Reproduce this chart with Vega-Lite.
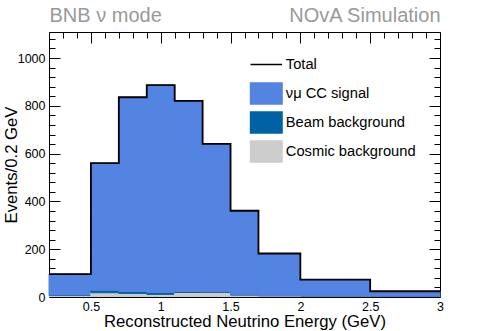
{
  "$schema": "https://vega.github.io/schema/vega-lite/v6.json",
  "width": 391,
  "height": 265,
  "autosize": "none",
  "padding": {"left": 49, "top": 32, "right": 48, "bottom": 34},
  "background": "white",
  "config": {
    "font": "Liberation Sans",
    "view": {"stroke": null},
    "axis": {"grid": false, "domainColor": "black", "tickColor": "black", "labelColor": "black", "titleColor": "black", "labelFontSize": 12.5, "titleFontSize": 16.7, "titleFontWeight": "normal", "domainWidth": 1, "tickWidth": 1, "labelFlush": false}
  },
  "datasets": {
    "components": [
      {"lo": 0.2, "hi": 0.5, "component": "Cosmic background", "ord": 1, "events": 7},
      {"lo": 0.2, "hi": 0.5, "component": "Beam background", "ord": 2, "events": 2},
      {"lo": 0.2, "hi": 0.5, "component": "νμ CC signal", "ord": 3, "events": 87},
      {"lo": 0.5, "hi": 0.7, "component": "Cosmic background", "ord": 1, "events": 18},
      {"lo": 0.5, "hi": 0.7, "component": "Beam background", "ord": 2, "events": 10},
      {"lo": 0.5, "hi": 0.7, "component": "νμ CC signal", "ord": 3, "events": 532},
      {"lo": 0.7, "hi": 0.9, "component": "Cosmic background", "ord": 1, "events": 15},
      {"lo": 0.7, "hi": 0.9, "component": "Beam background", "ord": 2, "events": 8},
      {"lo": 0.7, "hi": 0.9, "component": "νμ CC signal", "ord": 3, "events": 813},
      {"lo": 0.9, "hi": 1.1, "component": "Cosmic background", "ord": 1, "events": 11},
      {"lo": 0.9, "hi": 1.1, "component": "Beam background", "ord": 2, "events": 8},
      {"lo": 0.9, "hi": 1.1, "component": "νμ CC signal", "ord": 3, "events": 868},
      {"lo": 1.1, "hi": 1.3, "component": "Cosmic background", "ord": 1, "events": 19},
      {"lo": 1.1, "hi": 1.3, "component": "Beam background", "ord": 2, "events": 4},
      {"lo": 1.1, "hi": 1.3, "component": "νμ CC signal", "ord": 3, "events": 798},
      {"lo": 1.3, "hi": 1.5, "component": "Cosmic background", "ord": 1, "events": 19},
      {"lo": 1.3, "hi": 1.5, "component": "Beam background", "ord": 2, "events": 3},
      {"lo": 1.3, "hi": 1.5, "component": "νμ CC signal", "ord": 3, "events": 619},
      {"lo": 1.5, "hi": 1.7, "component": "Cosmic background", "ord": 1, "events": 8},
      {"lo": 1.5, "hi": 1.7, "component": "Beam background", "ord": 2, "events": 3},
      {"lo": 1.5, "hi": 1.7, "component": "νμ CC signal", "ord": 3, "events": 350},
      {"lo": 1.7, "hi": 2.0, "component": "Cosmic background", "ord": 1, "events": 5},
      {"lo": 1.7, "hi": 2.0, "component": "Beam background", "ord": 2, "events": 1},
      {"lo": 1.7, "hi": 2.0, "component": "νμ CC signal", "ord": 3, "events": 176},
      {"lo": 2.0, "hi": 2.5, "component": "Cosmic background", "ord": 1, "events": 4},
      {"lo": 2.0, "hi": 2.5, "component": "Beam background", "ord": 2, "events": 1},
      {"lo": 2.0, "hi": 2.5, "component": "νμ CC signal", "ord": 3, "events": 68},
      {"lo": 2.5, "hi": 3.0, "component": "Cosmic background", "ord": 1, "events": 3},
      {"lo": 2.5, "hi": 3.0, "component": "Beam background", "ord": 2, "events": 0.5},
      {"lo": 2.5, "hi": 3.0, "component": "νμ CC signal", "ord": 3, "events": 20.5}
    ],
    "totals": [
      {"edge": 0.2, "total": 96},
      {"edge": 0.5, "total": 560},
      {"edge": 0.7, "total": 836},
      {"edge": 0.9, "total": 887},
      {"edge": 1.1, "total": 821},
      {"edge": 1.3, "total": 641},
      {"edge": 1.5, "total": 361},
      {"edge": 1.7, "total": 182},
      {"edge": 2.0, "total": 73},
      {"edge": 2.5, "total": 24},
      {"edge": 3.0, "total": 24}
    ]
  },
  "layer": [
    {
      "data": {"name": "components"},
      "transform": [
        {"stack": "events", "groupby": ["lo"], "sort": [{"field": "ord", "order": "ascending"}], "as": ["y0", "y1"]}
      ],
      "mark": {"type": "bar", "strokeWidth": 1},
      "encoding": {
        "x": {
          "field": "lo", "type": "quantitative",
          "scale": {"domain": [0.2, 3], "nice": false, "zero": false},
          "axis": {"orient": "bottom", "values": [0.5, 1, 1.5, 2, 2.5, 3], "format": "~g", "ticks": false, "labelPadding": 3, "labelBaseline": "top", "title": "Reconstructed Neutrino Energy (GeV)", "titleX": 195.5, "titleY": 29.5, "titleAlign": "center", "titleBaseline": "alphabetic", "zindex": 1}
        },
        "x2": {"field": "hi"},
        "y": {
          "field": "y0", "type": "quantitative",
          "scale": {"domain": [0, 1109], "nice": false},
          "axis": {"orient": "left", "values": [0, 40, 80, 120, 160, 200, 240, 280, 320, 360, 400, 440, 480, 520, 560, 600, 640, 680, 720, 760, 800, 840, 880, 920, 960, 1000, 1040, 1080], "format": "d", "labelExpr": "datum.value % 200 === 0 ? datum.label : ''", "tickSize": {"condition": {"test": "datum.value % 200 === 0", "value": -11}, "value": -6}, "labelPadding": 15, "title": "Events/0.2 GeV", "titleX": -32.5, "titleY": 132.5, "titleAngle": -90, "titleAlign": "center", "titleBaseline": "alphabetic", "zindex": 0}
        },
        "y2": {"field": "y1"},
        "color": {
          "field": "component", "type": "nominal",
          "scale": {"domain": ["Total", "νμ CC signal", "Beam background", "Cosmic background"], "range": ["black", "#5384E1", "#0062A5", "#CCCCCC"]},
          "legend": {
            "orient": "none", "legendX": 205.8, "legendY": 21, "title": null, "padding": 0,
            "symbolType": "M-1.5,-1H1.5V1H-1.5Z", "symbolSize": 441, "symbolStrokeWidth": 0,
            "labelFontSize": 14.7, "labelFont": "Liberation Sans", "labelColor": "black", "labelOffset": 8, "rowPadding": 2,
            "encode": {"symbols": {"update": {
              "shape": {"signal": "datum.value === 'Total' ? 'M-1.5,-1M-1.5,0H1.5M1.5,1' : 'M-1.5,-1H1.5V1H-1.5Z'"},
              "stroke": {"signal": "datum.value === 'Total' ? 'black' : 'transparent'"},
              "strokeWidth": {"value": 1.5}
            }}}
          }
        },
        "stroke": {
          "field": "component", "type": "nominal",
          "scale": {"domain": ["Total", "νμ CC signal", "Beam background", "Cosmic background"], "range": ["black", "#5384E1", "#0062A5", "#CCCCCC"]},
          "legend": null
        }
      }
    },
    {
      "data": {"name": "totals"},
      "mark": {"type": "line", "interpolate": "step-after", "color": "black", "strokeWidth": 1.8},
      "encoding": {
        "x": {
          "field": "edge", "type": "quantitative",
          "scale": {"domain": [0.2, 3], "nice": false, "zero": false},
          "axis": {"orient": "top", "values": [0.2, 0.3, 0.4, 0.5, 0.6, 0.7, 0.8, 0.9, 1.0, 1.1, 1.2, 1.3, 1.4, 1.5, 1.6, 1.7, 1.8, 1.9, 2.0, 2.1, 2.2, 2.3, 2.4, 2.5, 2.6, 2.7, 2.8, 2.9, 3.0], "labels": false, "tickSize": {"condition": {"test": "abs(datum.value * 2 - round(datum.value * 2)) < 0.001", "value": -11}, "value": -6}, "title": "BNB ν mode", "titleX": 0, "titleY": -10.3, "titleAngle": 0, "titleAlign": "left", "titleBaseline": "alphabetic", "titleColor": "#999999", "titleFontSize": 20}
        },
        "y": {
          "field": "total", "type": "quantitative",
          "scale": {"domain": [0, 1109], "nice": false},
          "axis": {"orient": "right", "values": [0, 40, 80, 120, 160, 200, 240, 280, 320, 360, 400, 440, 480, 520, 560, 600, 640, 680, 720, 760, 800, 840, 880, 920, 960, 1000, 1040, 1080], "labels": false, "tickSize": {"condition": {"test": "datum.value % 200 === 0", "value": -11}, "value": -6}, "title": "NOvA Simulation", "titleX": 0, "titleY": -10.3, "titleAngle": 0, "titleAlign": "right", "titleBaseline": "alphabetic", "titleColor": "#999999", "titleFontSize": 20}
        }
      }
    }
  ],
  "resolve": {"axis": {"x": "independent", "y": "independent"}}
}
